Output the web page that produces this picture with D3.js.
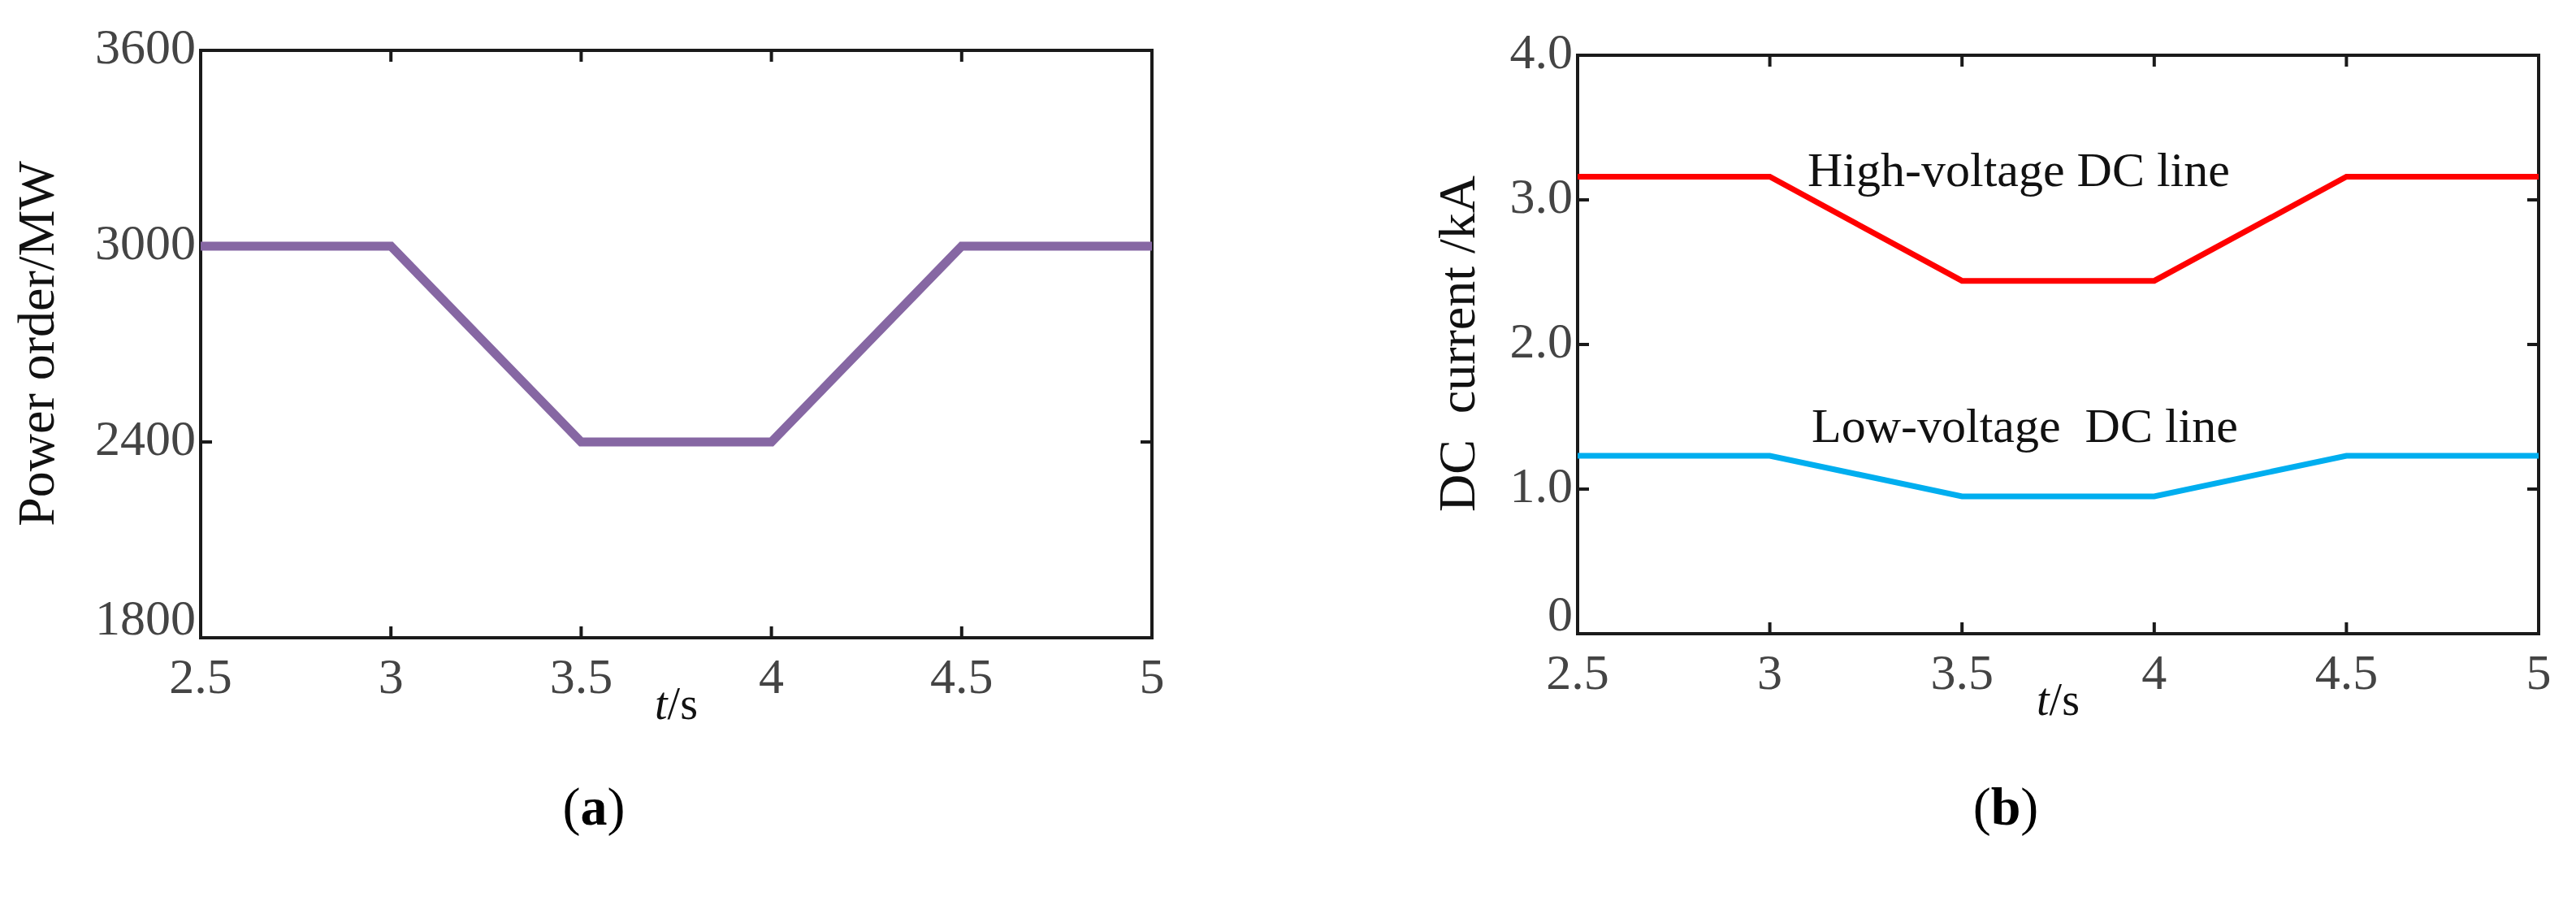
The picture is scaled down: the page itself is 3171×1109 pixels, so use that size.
<!DOCTYPE html>
<html>
<head>
<meta charset="utf-8">
<script src="https://cdn.jsdelivr.net/npm/d3@7"></script>
<style>
  body { margin: 0; background: #fff; }
  text { font-family: "Liberation Serif", "DejaVu Serif", serif; }
</style>
</head>
<body>
<svg id="chart" width="3171" height="1109"></svg>
<script>
// data
var tTicks = [2.5, 3, 3.5, 4, 4.5, 5];
var powerT = [2.5, 3, 3.5, 4, 4.5, 5];
var powerOrder = [3000, 3000, 2400, 2400, 3000, 3000];
var powerTicks = [1800, 2400, 3000, 3600];

var currentT = [2.5, 3, 3.5, 4, 4.5, 5];
var highCurrent = [3.16, 3.16, 2.44, 2.44, 3.16, 3.16];
var lowCurrent = [1.23, 1.23, 0.95, 0.95, 1.23, 1.23];
var currentTicks = [0, 1.0, 2.0, 3.0, 4.0];

var svg = d3.select("#chart");

// draws one framed panel with inward ticks on all sides
function panel(box, yDomain, yTicks, yFmt) {
  var x = d3.scaleLinear().domain([2.5, 5]).range([box.x0, box.x1]);
  var y = d3.scaleLinear().domain(yDomain).range([box.y1, box.y0]);
  var g = svg.append("g");

  g.append("rect")
    .attr("x", box.x0).attr("y", box.y0)
    .attr("width", box.x1 - box.x0).attr("height", box.y1 - box.y0)
    .attr("fill", "none").attr("stroke", "#1a1a1a").attr("stroke-width", 4);

  var tl = 14;
  tTicks.forEach(function(t) {
    g.append("line").attr("x1", x(t)).attr("x2", x(t)).attr("y1", box.y1).attr("y2", box.y1 - tl)
      .attr("stroke", "#1a1a1a").attr("stroke-width", 4);
    g.append("line").attr("x1", x(t)).attr("x2", x(t)).attr("y1", box.y0).attr("y2", box.y0 + tl)
      .attr("stroke", "#1a1a1a").attr("stroke-width", 4);
    g.append("text").attr("x", x(t)).attr("y", box.y1 + 68)
      .attr("text-anchor", "middle").attr("font-size", 62).attr("fill", "#444")
      .text(t);
  });
  yTicks.forEach(function(v, i) {
    g.append("line").attr("x1", box.x0).attr("x2", box.x0 + tl).attr("y1", y(v)).attr("y2", y(v))
      .attr("stroke", "#1a1a1a").attr("stroke-width", 4);
    g.append("line").attr("x1", box.x1).attr("x2", box.x1 - tl).attr("y1", y(v)).attr("y2", y(v))
      .attr("stroke", "#1a1a1a").attr("stroke-width", 4);
    g.append("text").attr("x", box.x0 - 6).attr("y", y(v) + (i === 0 ? -4 : 16))
      .attr("text-anchor", "end").attr("font-size", 62).attr("fill", "#444")
      .text(yFmt(v));
  });

  // x label t/s
  var xl = g.append("text").attr("x", (x(3.5) + x(4)) / 2).attr("y", box.y1 + 100)
    .attr("text-anchor", "middle").attr("font-size", 56).attr("fill", "#111");
  xl.append("tspan").attr("font-style", "italic").text("t");
  xl.append("tspan").text("/s");

  return { x: x, y: y, g: g };
}

function drawLine(p, xs, ys, color, w) {
  var line = d3.line().x(function(d, i) { return p.x(xs[i]); }).y(function(d) { return p.y(d); });
  p.g.append("path").datum(ys).attr("d", line)
    .attr("fill", "none").attr("stroke", color).attr("stroke-width", w)
    .attr("stroke-linejoin", "miter");
}

// (a) power order
var pa = panel({ x0: 247, x1: 1418, y0: 62, y1: 785 }, [1800, 3600], powerTicks, function(v) { return v; });
drawLine(pa, powerT, powerOrder, "#8667a3", 11);
svg.append("text").attr("transform", "translate(66,423) rotate(-90)")
  .attr("text-anchor", "middle").attr("font-size", 64).attr("fill", "#111").text("Power order/MW");
var la = svg.append("text").attr("x", 731).attr("y", 1015).attr("text-anchor", "middle").attr("font-size", 66);
la.append("tspan").text("(");
la.append("tspan").attr("font-weight", "bold").text("a");
la.append("tspan").text(")");

// (b) DC current
var pb = panel({ x0: 1942, x1: 3125, y0: 68, y1: 780 }, [0, 4], currentTicks, function(v) { return v === 0 ? "0" : v.toFixed(1); });
drawLine(pb, currentT, highCurrent, "#ff0000", 7);
drawLine(pb, currentT, lowCurrent, "#00aeef", 7);
pb.g.append("text").attr("x", 2225).attr("y", 229).attr("font-size", 60).attr("fill", "#111").text("High-voltage DC line");
pb.g.append("text").attr("x", 2230).attr("y", 544).attr("font-size", 60).attr("fill", "#111")
  .attr("xml:space", "preserve").text("Low-voltage  DC line");
svg.append("text").attr("transform", "translate(1815,423) rotate(-90)")
  .attr("text-anchor", "middle").attr("font-size", 64).attr("fill", "#111")
  .attr("xml:space", "preserve").text("DC  current /kA");
var lb = svg.append("text").attr("x", 2469).attr("y", 1015).attr("text-anchor", "middle").attr("font-size", 66);
lb.append("tspan").text("(");
lb.append("tspan").attr("font-weight", "bold").text("b");
lb.append("tspan").text(")");
</script>
</body>
</html>
